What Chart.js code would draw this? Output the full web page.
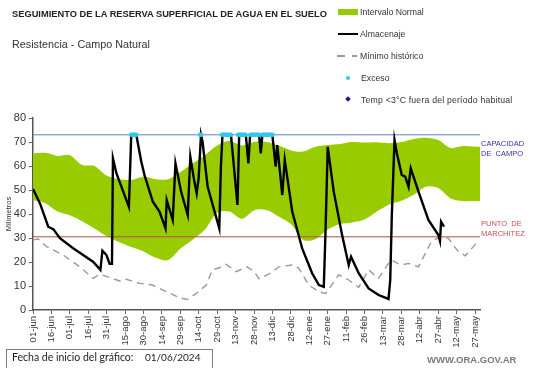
<!DOCTYPE html>
<html>
<head>
<meta charset="utf-8">
<script src="https://cdn.jsdelivr.net/npm/chart.js@4"></script>
<style>
  body { margin: 0; background: #fff; }
  #wrap { position: relative; width: 541px; height: 368px; font-family: "Liberation Sans", Arial, sans-serif; color: #222; overflow: hidden; }
  #wrap canvas { position: absolute; left: 0; top: 0; }
  .t { position: absolute; white-space: nowrap; }
  .leg { position: absolute; font-size: 8.7px; color: #333; white-space: nowrap; }
  .sym { position: absolute; }
</style>
</head>
<body>
<div id="wrap">
  <canvas id="reserva" width="541" height="368"></canvas>

  <div class="t" style="left:12px;top:9px;font-size:9.3px;font-weight:bold;">SEGUIMIENTO DE LA RESERVA SUPERFICIAL DE AGUA EN EL SUELO</div>
  <div class="t" style="left:12px;top:38px;font-size:10.8px;color:#333;">Resistencia - Campo Natural</div>

  <div class="sym" style="left:338px;top:9px;width:20px;height:6px;background:#99cc00;"></div>
  <div class="leg" style="left:360px;top:7px;">Intervalo Normal</div>
  <div class="sym" style="left:338px;top:33px;width:20px;height:2px;background:#000;"></div>
  <div class="leg" style="left:360px;top:29px;">Almacenaje</div>
  <div class="sym" style="left:337px;top:55px;width:8px;height:1.5px;background:#999;"></div>
  <div class="sym" style="left:352px;top:55px;width:5px;height:1.5px;background:#999;"></div>
  <div class="leg" style="left:360px;top:51px;">Mínimo histórico</div>
  <div class="sym" style="left:346px;top:76px;width:4px;height:4px;border-radius:2px;background:#33c9e8;"></div>
  <div class="leg" style="left:361px;top:73px;">Exceso</div>
  <div class="sym" style="left:346px;top:97px;width:4px;height:4px;transform:rotate(45deg);background:#1a1a99;"></div>
  <div class="leg" style="left:361px;top:95px;letter-spacing:0.2px;">Temp &lt;3°C fuera del período habitual</div>

  <div class="t" style="left:481px;top:139px;font-size:7.5px;line-height:10px;color:#3333aa;">CAPACIDAD<br>DE&nbsp; CAMPO</div>
  <div class="t" style="left:481px;top:219px;font-size:7.5px;line-height:10px;color:#c0504d;">PUNTO&nbsp; DE<br>MARCHITEZ</div>

  <div class="t" style="left:6px;top:349px;width:205px;height:18px;border:1px solid #8a7a7a;"></div>
  <div class="t" style="left:12px;top:351px;font-family:Lato, 'Liberation Sans', sans-serif;font-size:10.5px;color:#222;">Fecha de inicio del gráfico:</div>
  <div class="t" style="left:145px;top:351px;font-family:Lato, 'Liberation Sans', sans-serif;font-size:10px;color:#222;">01/06/2024</div>

  <div class="t" style="left:427px;top:354px;font-size:9.5px;font-weight:bold;color:#7a7a7a;">WWW.ORA.GOV.AR</div>
</div>

<script>
// etiquetas del eje x (cada 15 dias desde 01-jun)
const etiquetas = ["01-jun", "16-jun", "01-jul", "16-jul", "31-jul", "15-ago", "30-ago", "14-sep", "29-sep",
  "14-oct", "29-oct", "13-nov", "28-nov", "13-dic", "28-dic", "12-ene", "27-ene", "11-feb", "26-feb",
  "13-mar", "28-mar", "12-abr", "27-abr", "12-may", "27-may"];

// intervalo normal
const bandaDias = [0, 10, 20, 30, 40, 50, 60, 70, 80, 90, 100, 110, 120, 130, 140, 150, 160, 170, 180,
  190, 200, 210, 220, 230, 240, 250, 260, 270, 280, 290, 300, 310, 320, 330, 340, 350, 360, 364];
const bandaSup = [65.3, 65.5, 64.2, 64.5, 60.4, 60, 56, 54.5, 54.2, 55.5, 54.5, 54.5, 57.5, 61, 64.5, 68.5,
  70.5, 68.5, 70, 70, 68.5, 66.5, 66, 68, 68.7, 69.2, 70, 69.8, 69.9, 69.5, 70, 71.3, 71.8, 70.8, 67.5, 68.3, 68, 68];
const bandaInf = [45.8, 44.5, 41, 39.5, 37, 34, 30.8, 28.3, 26.2, 24.4, 21.8, 20.8, 25.5, 29.3, 33.5, 40.5,
  41, 38, 41.5, 41.7, 39, 35.8, 29.2, 29.5, 33.5, 35.8, 36.5, 37.7, 41, 44, 45.5, 48, 51.4, 50.8, 46.5, 45.4, 45.4, 45.4];

// almacenaje
const almDias = [0, 5.7, 12.4, 16.5, 21.9, 32.7, 40.8, 48.9, 54.9, 56.5, 59.8, 62.4, 64.3, 65.1, 67.9, 78.1,
  80, 84.1, 88.2, 90.8, 97.6, 103, 107.9, 108.9, 113.8, 116, 120.6, 126, 128.1, 131.4, 133.3, 134.9, 136.8,
  138.1, 142.2, 144.1, 151.7, 153, 154.3, 161.2, 166.5, 167.9, 173.3, 175.4, 176.8, 184.1, 185.5, 186.8,
  194.9, 197.6, 198.9, 203, 205, 211.1, 219.2, 227.3, 232.8, 236.8, 238.2, 240, 244.9, 251.7, 257.1, 259,
  265.2, 273.3, 281.4, 289.5, 290.9, 292.2, 294.4, 296.3, 300.3, 303.1, 305.8, 307.6, 313.9, 322, 330.1,
  331.4, 332.3, 334.7];
const almValores = [50.4, 44.4, 34.7, 33.7, 29.9, 25.7, 22.9, 20.1, 16.7, 24.7, 22.9, 19.2, 19.2, 63.2, 57, 43,
  73, 73, 61.8, 56.2, 45.1, 41, 34, 45.8, 37.5, 61.1, 49.3, 39.6, 63.9, 53.5, 48.6, 54.9, 73,
  70, 51.4, 47.9, 34, 59.7, 73, 73, 43.75, 73, 73, 61.1, 73, 73, 65.3, 73,
  73, 59.7, 68.75, 47.9, 62.5, 41, 25.7, 15.3, 10.4, 9.7, 32.6, 68, 49.3, 31.2, 18.75, 22.2,
  15.3, 9, 6.25, 4.6, 12.5, 39.6, 70.8, 65.3, 56.25, 55.6, 51.4, 59, 49.3, 37.5, 31.2,
  28.75, 36.8, 34.7];

// minimo historico
const minDias = [0, 4.3, 11.1, 24.6, 38.1, 48.9, 54.3, 62.4, 70.6, 76, 86.8, 97.3, 108.7, 119.2, 125.7, 133,
  141.1, 146, 151.7, 157.3, 165.5, 174.4, 180, 184.1, 192.2, 200.3, 210.9, 216.5, 224.6, 232.8, 238.4,
  249, 257.1, 265.2, 273.3, 281.4, 289.5, 292, 299.3, 305.8, 313.9, 324.4, 331.7, 338.2, 346.3, 352, 361];
const minValores = [29.2, 29.6, 26.4, 22.9, 18, 13.2, 14.9, 13.5, 12.1, 12.8, 11.1, 10.4, 7.6, 5.1, 4.4, 6.9,
  10.4, 16.7, 17.6, 19, 16, 18, 16, 13, 15, 18, 18.75, 17.4, 10.4, 7.6, 6.9,
  14.6, 12.5, 9.4, 16.7, 13.2, 19.4, 20.8, 18.75, 19.4, 18, 28.5, 30.5, 29.9, 24.3, 22.6, 27.8];

// dias con exceso (almacenaje en capacidad de campo)
const excesoDias = [80, 81, 82, 83, 84, 136, 137, 154, 155, 156, 157, 158, 159, 160, 161,
  167, 168, 169, 170, 171, 172, 173, 177, 178, 179, 180, 181, 182, 183, 184,
  187, 188, 189, 190, 191, 192, 193, 194, 195];

const capacidad = 73;
const marchitez = 30.5;
const diaFinal = 364;

const pares = (xs, ys) => xs.map((x, i) => ({ x: x, y: ys[i] }));

new Chart(document.getElementById("reserva"), {
  type: "line",
  data: {
    datasets: [
      {
        label: "Exceso",
        data: excesoDias.map(d => ({ x: d, y: capacidad })),
        showLine: false,
        pointRadius: 2.3,
        pointBackgroundColor: "#33c9e8",
        pointBorderWidth: 0,
        order: 0
      },
      {
        label: "Almacenaje",
        data: pares(almDias, almValores),
        borderColor: "#000",
        borderWidth: 2.4,
        pointRadius: 0,
        tension: 0,
        order: 1
      },
      {
        label: "Mínimo histórico",
        data: pares(minDias, minValores),
        borderColor: "#9a9a9a",
        borderWidth: 1.4,
        borderDash: [7, 5],
        pointRadius: 0,
        order: 2
      },
      {
        label: "Capacidad de campo",
        data: [{ x: 0, y: capacidad }, { x: diaFinal, y: capacidad }],
        borderColor: "#5b80c8",
        borderWidth: 1,
        pointRadius: 0,
        order: 3
      },
      {
        label: "Punto de marchitez",
        data: [{ x: 0, y: marchitez }, { x: diaFinal, y: marchitez }],
        borderColor: "#b94a48",
        borderWidth: 1,
        pointRadius: 0,
        order: 3
      },
      {
        label: "Intervalo Normal",
        data: pares(bandaDias, bandaSup),
        borderWidth: 0,
        pointRadius: 0,
        backgroundColor: "#99cc00",
        fill: "+1",
        tension: 0.3,
        order: 5
      },
      {
        label: "inf",
        data: pares(bandaDias, bandaInf),
        borderWidth: 0,
        pointRadius: 0,
        fill: false,
        tension: 0.3,
        order: 5
      }
    ]
  },
  options: {
    responsive: false,
    animation: false,
    devicePixelRatio: 1,
    layout: { padding: { left: 0, top: 118, right: 61, bottom: 18 } },
    plugins: {
      legend: { display: false },
      tooltip: { enabled: false }
    },
    scales: {
      x: {
        type: "linear",
        min: 0,
        max: diaFinal,
        afterBuildTicks: s => { s.ticks = etiquetas.map((e, i) => ({ value: i * 15 })); },
        afterFit: s => { s.height = 40; },
        ticks: {
          autoSkip: false,
          minRotation: 90,
          maxRotation: 90,
          padding: 2,
          color: "#333",
          font: { family: "Liberation Sans", size: 9.5 },
          callback: v => etiquetas[v / 15]
        },
        grid: { drawOnChartArea: false, tickLength: 4, color: "#666" },
        border: { color: "#555", width: 1.5 }
      },
      y: {
        min: 0,
        max: 80,
        afterFit: s => { s.width = 33; },
        ticks: {
          stepSize: 10,
          padding: 3,
          color: "#333",
          font: { family: "Liberation Sans", size: 11 }
        },
        grid: { drawOnChartArea: false, tickLength: 4, color: "#666" },
        border: { color: "#555", width: 1.5 },
        title: {
          display: true,
          text: "Milímetros",
          color: "#333",
          font: { family: "Liberation Sans", size: 7.5 },
          padding: { top: 4, bottom: 0 }
        }
      }
    }
  }
});
</script>
</body>
</html>
